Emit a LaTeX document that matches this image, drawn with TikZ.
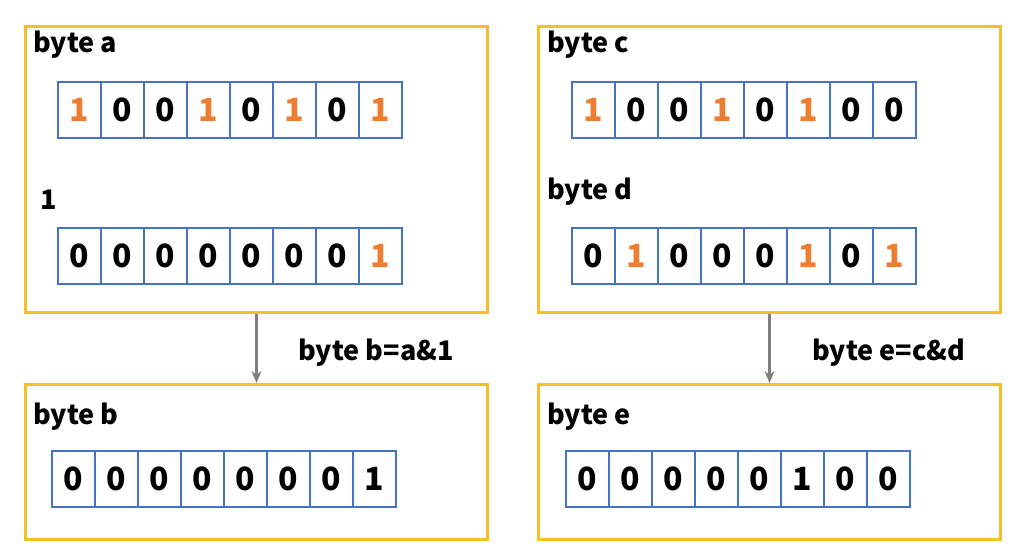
\documentclass[tikz,border=0pt]{standalone}
\usepackage{fontspec}
\setmainfont{Noto Sans CJK JP}
\usetikzlibrary{arrows.meta,positioning}
\definecolor{framegold}{HTML}{F5BE2A}
\definecolor{cellblue}{HTML}{4472C4}
\definecolor{bitorange}{HTML}{ED7D31}
\definecolor{arrowgray}{HTML}{7F7F7F}
\tikzset{
    frame/.style={draw=framegold, line width=1.5pt, minimum width=231pt, minimum height=143pt, anchor=north west, inner sep=0pt},
    cell/.style={draw=cellblue, line width=1pt, minimum width=21.5pt, minimum height=28pt, inner sep=0pt, outer sep=0pt, font=\bfseries\fontsize{16}{16}\selectfont},
    caption/.style={anchor=west, font=\bfseries\fontsize{13.5}{15}\selectfont, inner sep=0pt},
    flow/.style={draw=arrowgray, line width=1.2pt, -{Stealth[length=6pt,width=5pt]}}
}
% one row of eight bits: name, first centre x, centre y, colour of the ones, bits
\newcommand{\bitrow}[5]{
    \foreach \b [count=\i] in {#5} {
        \ifnum\b=1 \def\bitcol{#4}\else\def\bitcol{black}\fi
        \node[cell, text=\bitcol] (#1\i) at ({#2+43*(\i-1)}, #3) {\b};
    }
}

\begin{document}
\begin{tikzpicture}[x=0.5pt, y=-0.5pt]
    \useasboundingbox (0,0) rectangle (1024,557);

    % draw the frames
    \node[frame] (boxa) at (24,25) {};
    \node[frame] (boxc) at (537,25) {};
    \node[frame, minimum height=77.5pt] (boxb) at (24,383) {};
    \node[frame, minimum height=77.5pt] (boxe) at (537,383) {};

    % label the bytes
    \node[caption] (namea) at (33,45) {byte a};
    \node[caption] (nameone) at (40,200) {1};
    \node[caption] (namec) at (547,45) {byte c};
    \node[caption] (named) at (547,192) {byte d};
    \node[caption] (nameb) at (33,417) {byte b};
    \node[caption] (namee) at (547,417) {byte e};

    % draw the bits
    \bitrow{a}{79.5}{110}{bitorange}{1,0,0,1,0,1,0,1}
    \bitrow{one}{79.5}{256}{bitorange}{0,0,0,0,0,0,0,1}
    \bitrow{c}{593.5}{110}{bitorange}{1,0,0,1,0,1,0,0}
    \bitrow{d}{593.5}{256}{bitorange}{0,1,0,0,0,1,0,1}
    \bitrow{b}{73.5}{479}{black}{0,0,0,0,0,0,0,1}
    \bitrow{e}{587.5}{479}{black}{0,0,0,0,0,1,0,0}

    % draw the operations
    \draw[flow] (boxa.south) -- (boxb.north);
    \draw[flow] (boxc.south) -- (boxe.north);
    \node[caption, anchor=center] (opab) at (376,353) {byte b=a\&1};
    \node[caption, anchor=center] (opce) at (889,353) {byte e=c\&d};
\end{tikzpicture}
\end{document}
